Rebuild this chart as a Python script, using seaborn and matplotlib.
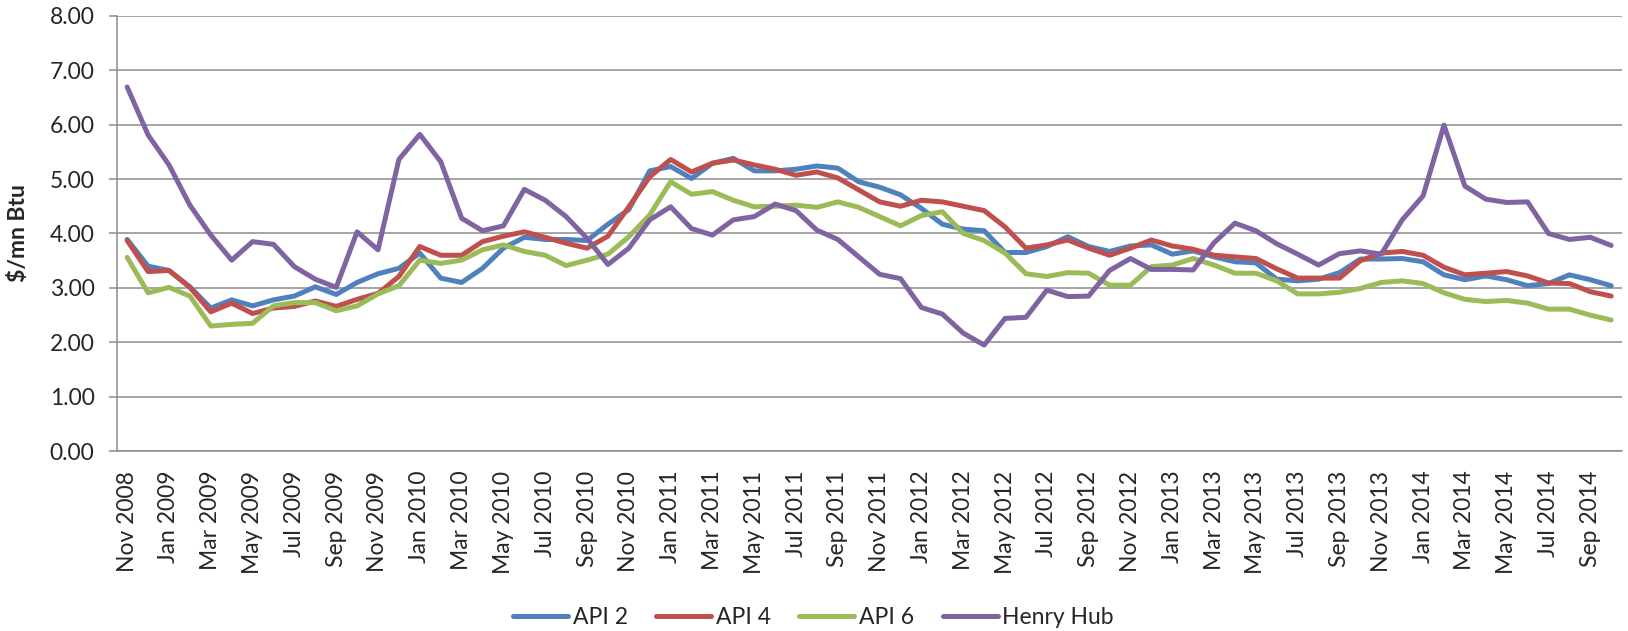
import pandas as pd
import numpy as np
import matplotlib
matplotlib.use('Agg')
import matplotlib.pyplot as plt
import seaborn as sns

# Monthly prices, $/mn Btu, Nov 2008 - Oct 2014
months = pd.date_range('2008-11-01', periods=72, freq='MS')
month_labels = [d.strftime('%b %Y') for d in months]

api2 = [3.89, 3.40, 3.32, 3.02, 2.63, 2.78, 2.67, 2.78, 2.85, 3.02, 2.88, 3.10, 3.26, 3.36, 3.64, 3.18, 3.10, 3.36, 3.73,
        3.93, 3.89, 3.89, 3.87, 4.17, 4.44, 5.15, 5.23, 5.01, 5.29, 5.38, 5.15, 5.15, 5.18, 5.24, 5.20, 4.95, 4.85, 4.71, 4.46,
        4.17, 4.08, 4.05, 3.65, 3.65, 3.76, 3.94, 3.76, 3.67, 3.77, 3.79, 3.62, 3.68, 3.57, 3.48, 3.46, 3.16,
        3.13, 3.16, 3.28, 3.53, 3.53, 3.54, 3.48, 3.24, 3.15, 3.22, 3.15, 3.04, 3.08, 3.24, 3.15, 3.04]
api4 = [3.87, 3.30, 3.32, 3.01, 2.56, 2.72, 2.53, 2.63, 2.66, 2.76, 2.66, 2.79, 2.90, 3.21, 3.76, 3.60, 3.60, 3.85, 3.95,
        4.03, 3.93, 3.82, 3.73, 3.95, 4.49, 5.04, 5.36, 5.13, 5.29, 5.35, 5.26, 5.18, 5.07, 5.13, 5.02, 4.80, 4.58, 4.50, 4.61,
        4.58, 4.50, 4.42, 4.12, 3.73, 3.79, 3.88, 3.73, 3.60, 3.73, 3.88, 3.77, 3.71, 3.60, 3.57, 3.54, 3.35,
        3.18, 3.18, 3.18, 3.50, 3.64, 3.67, 3.60, 3.38, 3.24, 3.27, 3.30, 3.22, 3.09, 3.08, 2.93, 2.85]
api6 = [3.56, 2.91, 3.01, 2.85, 2.30, 2.33, 2.35, 2.67, 2.73, 2.73, 2.58, 2.67, 2.89, 3.04, 3.51, 3.45, 3.51, 3.70, 3.79,
        3.67, 3.60, 3.41, 3.51, 3.62, 3.94, 4.34, 4.95, 4.72, 4.77, 4.61, 4.49, 4.50, 4.52, 4.48, 4.58, 4.48, 4.31, 4.14, 4.33,
        4.40, 4.00, 3.87, 3.64, 3.26, 3.21, 3.28, 3.27, 3.05, 3.05, 3.39, 3.42, 3.54, 3.42, 3.27, 3.27, 3.13,
        2.89, 2.89, 2.92, 2.99, 3.10, 3.13, 3.08, 2.91, 2.79, 2.75, 2.77, 2.72, 2.61, 2.61, 2.50, 2.41]
henry_hub = [6.69, 5.81, 5.26, 4.52, 3.97, 3.51, 3.85, 3.80, 3.39, 3.16, 3.01, 4.03, 3.70, 5.36, 5.82, 5.32, 4.28, 4.05, 4.14,
             4.81, 4.61, 4.31, 3.91, 3.43, 3.73, 4.25, 4.49, 4.09, 3.97, 4.25, 4.31, 4.54, 4.42, 4.06, 3.89, 3.57, 3.25, 3.17, 2.64,
             2.52, 2.17, 1.95, 2.44, 2.46, 2.96, 2.84, 2.85, 3.32, 3.54, 3.34, 3.34, 3.33, 3.83, 4.19, 4.05, 3.81,
             3.62, 3.42, 3.63, 3.68, 3.62, 4.25, 4.69, 5.99, 4.87, 4.63, 4.57, 4.58, 4.00, 3.89, 3.93, 3.78]

series_names = ['API 2', 'API 4', 'API 6', 'Henry Hub']
colors = ['#4F81BD', '#C0504D', '#9BBB59', '#8064A2']

df = pd.DataFrame({'idx': np.arange(len(months)), 'API 2': api2, 'API 4': api4,
                   'API 6': api6, 'Henry Hub': henry_hub})
long_df = df.melt(id_vars='idx', var_name='series', value_name='price')

sns.set_style('white')
plt.rcParams['font.family'] = ['Lato', 'DejaVu Sans']

fig = plt.figure(figsize=(16.28, 6.31), dpi=100)
ax = fig.add_axes([0.0717, 0.2849, 0.9244, 0.6902])

sns.lineplot(data=long_df, x='idx', y='price', hue='series', hue_order=series_names,
             palette=colors, linewidth=3.6, ax=ax, legend=False, zorder=3)

ax.set_xlim(-0.5, len(months) - 0.5)
ax.set_ylim(0, 8)
ax.set_yticks(np.arange(0, 9, 1))
ax.set_yticklabels([f'{v:.2f}' for v in range(9)], fontsize=16.5)
ax.yaxis.grid(True, color='#8c8c8c', linewidth=1.1, zorder=0)
ax.xaxis.grid(False)

ax.set_xticks(np.arange(0, len(months), 2))
ax.set_xticklabels(month_labels[::2], rotation=90, fontsize=16.5)
ax.set_xticks(np.arange(-0.5, len(months), 1), minor=True)
ax.tick_params(axis='x', which='major', length=0, pad=14)
ax.tick_params(axis='x', which='minor', length=6, width=1.1, color='#8c8c8c')
ax.tick_params(axis='y', length=6, width=1.1, color='#8c8c8c', pad=10, left=True)

for side in ['top', 'right']:
    ax.spines[side].set_visible(False)
for side in ['left', 'bottom']:
    ax.spines[side].set_color('#8c8c8c')
    ax.spines[side].set_linewidth(1.1)

ax.set_xlabel('')
ax.set_ylabel(r'\$/mn Btu', fontsize=16.5, fontweight='bold')
ax.yaxis.set_label_coords(-0.058, 0.5)

handles = [plt.Line2D([], [], color=c, linewidth=3.6, solid_capstyle='round') for c in colors]
fig.legend(handles, series_names, loc='center', bbox_to_anchor=(0.4997, 0.022), ncol=4,
           frameon=False, fontsize=16.5, handlelength=2.4, handletextpad=0.2, columnspacing=1.25)

fig.savefig('out.png', dpi=100)
